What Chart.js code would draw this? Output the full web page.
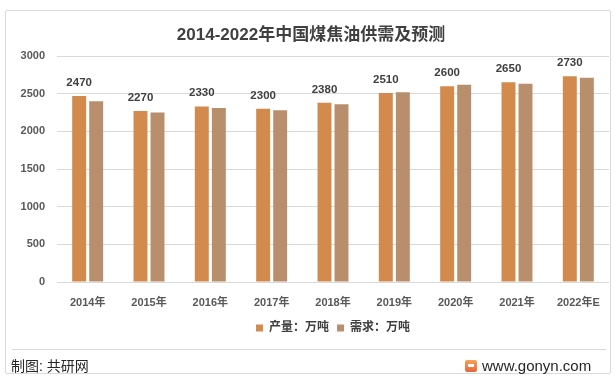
<!DOCTYPE html>
<html><head><meta charset="utf-8">
<script src="https://cdn.jsdelivr.net/npm/chart.js@4.4.1/dist/chart.umd.min.js"></script>
<style>
html,body{margin:0;padding:0;background:#fff;}
#wrap{position:relative;width:616px;height:383px;overflow:hidden;background:#fff;}
#frame{position:absolute;left:5px;top:10px;width:606px;height:364px;border:1px solid #D9D9D9;border-radius:2px;box-sizing:border-box;}
#title{position:absolute;left:0;width:622px;top:24px;text-align:center;font:bold 17px 'Liberation Sans','Noto Sans CJK SC',sans-serif;color:#404040;line-height:22px;}
#sep{position:absolute;left:12px;width:594px;top:349px;height:1px;background:#D9D9D9;}
#src{position:absolute;left:11px;top:357px;font:14px 'Liberation Sans','Noto Sans CJK SC',sans-serif;color:#262626;line-height:18px;}
#site{position:absolute;left:482px;top:356px;font:15px 'Liberation Sans',sans-serif;color:#262626;line-height:19px;}
#logo{position:absolute;left:465px;top:360px;width:12px;height:12px;border-radius:2px;background:linear-gradient(180deg,#F7A35C,#E8663A);}
#logo:after{content:'';position:absolute;left:3px;top:4px;width:6px;height:3px;background:#fff;}
canvas{position:absolute;left:0;top:0;}
</style>
</head><body>
<div id="wrap">
  <div id="frame"></div>
  <canvas id="c" width="616" height="383"></canvas>
  <div id="title">2014-2022年中国煤焦油供需及预测</div>
  <div id="sep"></div>
  <div id="src">制图: 共研网</div>
  <div id="logo"></div>
  <div id="site">www.gonyn.com</div>
</div>
<script>
const categories = ['2014年','2015年','2016年','2017年','2018年','2019年','2020年','2021年','2022年E'];
const production = [2470, 2270, 2330, 2300, 2380, 2510, 2600, 2650, 2730];
const demand = [2400, 2250, 2310, 2280, 2360, 2520, 2620, 2630, 2710];
const seriesNames = ['产量：万吨', '需求：万吨'];
const yMin = 0, yMax = 3000, yStep = 500;

const FONT = "'Liberation Sans','Noto Sans CJK SC',sans-serif";

const labelPlugin = {
  id: 'valueLabels',
  afterDatasetsDraw(chart) {
    const ctx = chart.ctx;
    const meta = chart.getDatasetMeta(0);
    ctx.save();
    ctx.font = 'bold 11.5px ' + FONT;
    ctx.fillStyle = '#404040';
    ctx.textAlign = 'center';
    ctx.textBaseline = 'alphabetic';
    meta.data.forEach((bar, i) => {
      ctx.fillText(String(production[i]), bar.x, bar.y - 10);
    });
    ctx.restore();
  }
};

new Chart(document.getElementById('c'), {
  type: 'bar',
  data: {
    labels: categories,
    datasets: [
      { label: seriesNames[0], data: production, backgroundColor: '#D38B4D', borderWidth: 0,
        categoryPercentage: 0.555, barPercentage: 0.82 },
      { label: seriesNames[1], data: demand, backgroundColor: '#B98E6C', borderWidth: 0,
        categoryPercentage: 0.555, barPercentage: 0.82 }
    ]
  },
  options: {
    responsive: false,
    devicePixelRatio: 1,
    animation: false,
    layout: { padding: { left: 0, right: 7, top: 56, bottom: 39 } },
    plugins: {
      title: { display: false },
      tooltip: { enabled: false },
      legend: {
        position: 'bottom',
        fullSize: false,
        labels: {
          boxWidth: 7, boxHeight: 7, padding: 8,
          color: '#404040',
          font: { family: FONT, size: 12, weight: 'bold' }
        }
      }
    },
    scales: {
      x: {
        grid: { display: false },
        border: { display: false },
        ticks: { color: '#595959', padding: 6, font: { family: FONT, size: 11, weight: 'bold' } },
        afterFit(s) { s.height = 32; }
      },
      y: {
        min: yMin, max: yMax,
        grid: { color: '#D9D9D9', drawTicks: false },
        border: { display: false },
        ticks: { stepSize: yStep, color: '#595959', padding: 12,
          font: { family: FONT, size: 11, weight: 'bold' },
          callback: (v) => String(v) },
        afterFit(s) { s.width = 57; }
      }
    }
  },
  plugins: [labelPlugin]
});
</script>
</body></html>
